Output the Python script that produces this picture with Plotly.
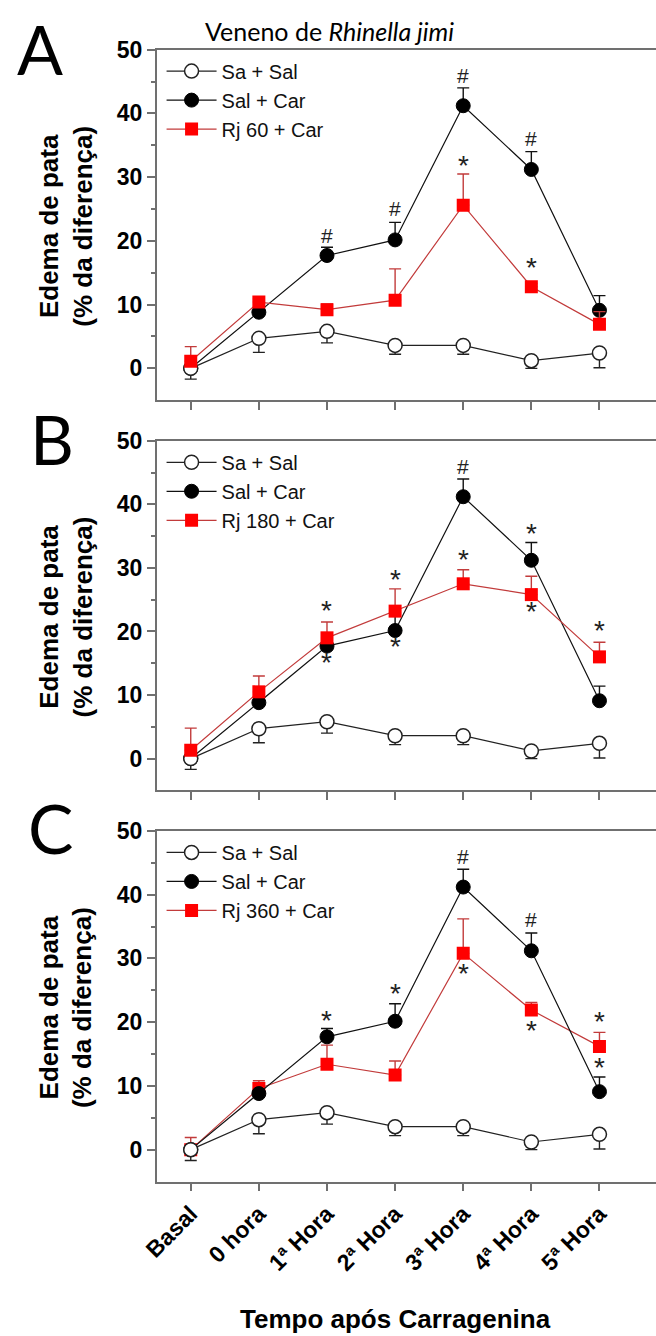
import plotly.graph_objects as go

# ---------------- data ----------------
categories = ["Basal", "0 hora", "1ª Hora", "2ª Hora", "3ª Hora", "4ª Hora", "5ª Hora"]

sa_sal = [0.0, 4.7, 5.8, 3.6, 3.6, 1.2, 2.4]
sa_sal_err = [1.7, 2.2, 1.8, 1.4, 1.4, 1.2, 2.3]

sal_car = [0.0, 8.8, 17.7, 20.15, 41.2, 31.2, 9.1]
sal_car_err = [0.0, 0.5, 1.3, 2.75, 2.8, 2.8, 2.3]

rj60 = [1.1, 10.4, 9.2, 10.7, 25.6, 12.8, 6.9]
rj60_err = [2.3, 0.5, 0.9, 4.9, 4.9, 0.5, 2.0]

rj180 = [1.3, 10.5, 19.0, 23.2, 27.5, 25.8, 16.0]
rj180_err = [3.5, 2.5, 2.5, 3.5, 2.2, 2.9, 2.3]

rj360 = [0.0, 9.6, 13.4, 11.7, 30.8, 21.9, 16.2]
rj360_err = [1.9, 1.2, 3.0, 2.2, 5.4, 1.2, 2.2]

treat_names = ["Rj 60 + Car", "Rj 180 + Car", "Rj 360 + Car"]
panel_letters = ["A", "B", "C"]

sig_A = [("1ª Hora", 20.6, "#"), ("2ª Hora", 24.7, "#"), ("3ª Hora", 45.7, "#"),
         ("4ª Hora", 35.8, "#"), ("3ª Hora", 31.7, "*"), ("4ª Hora", 15.6, "*")]
sig_B = [("1ª Hora", 23.1, "*"), ("2ª Hora", 28.0, "*"), ("3ª Hora", 31.2, "*"),
         ("5ª Hora", 20.0, "*"), ("1ª Hora", 14.9, "*"), ("2ª Hora", 17.4, "*"),
         ("3ª Hora", 45.7, "#"), ("4ª Hora", 35.3, "*"), ("4ª Hora", 23.0, "*")]
sig_C = [("1ª Hora", 20.1, "*"), ("2ª Hora", 24.3, "*"), ("3ª Hora", 45.7, "#"),
         ("4ª Hora", 35.8, "#"), ("3ª Hora", 27.5, "*"), ("4ª Hora", 18.5, "*"),
         ("5ª Hora", 20.0, "*"), ("5ª Hora", 12.7, "*")]

# ---------------- style ----------------
W, H = 656, 1336
AX = "#707070"
RED = "#ff0000"
REDLINE = "#c23b3b"
FONT = "Liberation Sans, Arial, sans-serif"

x_left = 145 / W
panels = [  # (top px, bottom px)
    (37, 391),
    (432, 785),
    (826, 1180),
]

fig = go.Figure()

treat_vals = [(rj60, rj60_err), (rj180, rj180_err), (rj360, rj360_err)]
zeros = [0] * 7

for i in range(3):
    xa = "x" if i == 0 else f"x{i+1}"
    ya = "y" if i == 0 else f"y{i+1}"
    lg = "legend" if i == 0 else f"legend{i+1}"
    tv, te = treat_vals[i]

    t_open = go.Scatter(
        x=categories, y=sa_sal, name="Sa + Sal", xaxis=xa, yaxis=ya, legend=lg,
        legendrank=1, mode="lines+markers",
        line=dict(color="#222222", width=1.2),
        marker=dict(symbol="circle", size=14, color="white",
                    line=dict(color="#222222", width=1.5)),
        error_y=dict(type="data", symmetric=False, array=zeros, arrayminus=sa_sal_err,
                     color="#222222", thickness=1.4, width=6),
    )
    t_black = go.Scatter(
        x=categories, y=sal_car, name="Sal + Car", xaxis=xa, yaxis=ya, legend=lg,
        legendrank=2, mode="lines+markers",
        line=dict(color="#111111", width=1.2),
        marker=dict(symbol="circle", size=14, color="black",
                    line=dict(color="black", width=1)),
        error_y=dict(type="data", symmetric=False, array=sal_car_err, arrayminus=zeros,
                     color="#111111", thickness=1.4, width=6),
    )
    t_red = go.Scatter(
        x=categories, y=tv, name=treat_names[i], xaxis=xa, yaxis=ya, legend=lg,
        legendrank=3, mode="lines+markers",
        line=dict(color=REDLINE, width=1.2),
        marker=dict(symbol="square", size=13, color=RED, line=dict(width=0)),
        error_y=dict(type="data", symmetric=False, array=te, arrayminus=zeros,
                     color=REDLINE, thickness=1.4, width=6),
    )
    order = [t_black, t_open, t_red] if i < 2 else [t_red, t_black, t_open]
    for t in order:
        fig.add_trace(t)

    top, bot = panels[i]
    dom = [1 - bot / H, 1 - top / H]
    xkey = "xaxis" if i == 0 else f"xaxis{i+1}"
    ykey = "yaxis" if i == 0 else f"yaxis{i+1}"
    fig.update_layout(**{
        xkey: dict(
            domain=[x_left, 1], anchor=ya, type="category",
            categoryorder="array", categoryarray=categories,
            range=[-0.5, 6.83], showline=True, mirror=True, linecolor=AX, linewidth=1.5,
            ticks="outside", ticklen=8, tickwidth=1.5, tickcolor=AX,
            showgrid=False, zeroline=False,
            showticklabels=(i == 2), tickangle=-45,
            tickfont=dict(family=FONT, size=23, color="black", weight="bold"),
        ),
        ykey: dict(
            domain=dom, anchor=xa, range=[-5, 50],
            tickmode="array", tickvals=[0, 10, 20, 30, 40, 50],
            showline=True, linecolor=AX, linewidth=1.5,
            ticks="outside", ticklen=8, tickwidth=1.5, tickcolor=AX,
            minor=dict(tickmode="array", tickvals=[5, 15, 25, 35, 45], ticks="outside",
                       ticklen=4, tickwidth=1.5, tickcolor=AX),
            showgrid=False, zeroline=False,
            tickfont=dict(family=FONT, size=23, color="black", weight="bold"),
        ),
        lg: dict(
            x=150 / W, y=1 - (top + 2) / H, xanchor="left", yanchor="top",
            bgcolor="rgba(0,0,0,0)", itemwidth=50, tracegroupgap=0,
            font=dict(family=FONT, size=20, color="#111111"),
        ),
    })

    # significance marks
    sigs = [sig_A, sig_B, sig_C][i]
    for cx, cy, s in sigs:
        fig.add_annotation(
            x=cx, y=cy, xref=xa, yref=ya, text=s, showarrow=False,
            font=dict(family=FONT, size=28 if s == "*" else 21, color="#222222"),
            yshift=1 if s == "*" else 2, xanchor="center", yanchor="middle",
        )

    # panel letter
    letter_centers = [(26, 36), (38, 430), (36, 823)]
    lx, ly = letter_centers[i]
    fig.add_annotation(
        x=lx / W, y=1 - ly / H, xref="paper", yref="paper", text=panel_letters[i],
        showarrow=False, xanchor="center", yanchor="middle",
        font=dict(family="Lato, Open Sans, sans-serif", size=68, color="black"),
    )

    # y-axis title
    fig.add_annotation(
        x=52 / W, y=1 - ((top + bot) / 2 + 1) / H, xref="paper", yref="paper",
        text="<b>Edema de pata<br>(% da diferença)</b>", textangle=-90,
        showarrow=False, xanchor="center", yanchor="middle",
        font=dict(family=FONT, size=26, color="black"),
    )

# figure title
fig.add_annotation(
    x=322 / W, y=1 - 18 / H, xref="paper", yref="paper",
    text="Veneno de <i>Rhinella jimi</i>", showarrow=False,
    xanchor="center", yanchor="middle",
    font=dict(family="Lato, Open Sans, sans-serif", size=25, color="black"),
)

# x-axis title
fig.add_annotation(
    x=389 / W, y=1 - 1319 / H, xref="paper", yref="paper",
    text="<b>Tempo após Carragenina</b>", showarrow=False,
    xanchor="center", yanchor="middle",
    font=dict(family=FONT, size=26, color="black"),
)

fig.update_layout(
    width=W, height=H, margin=dict(l=0, r=0, t=0, b=0),
    paper_bgcolor="white", plot_bgcolor="white", showlegend=True,
)

fig.write_html("out.html")
